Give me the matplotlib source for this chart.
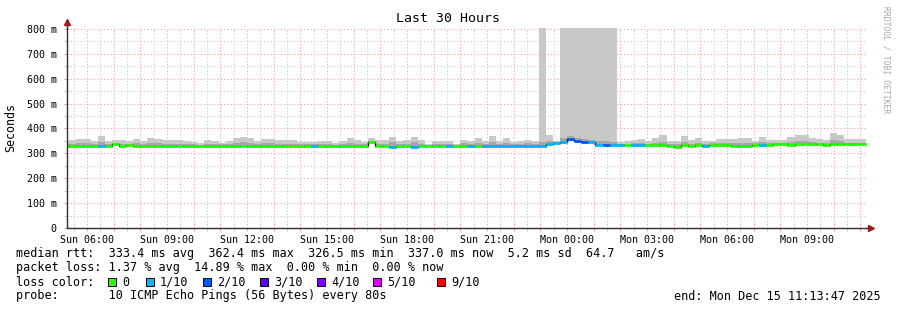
import matplotlib
matplotlib.use("Agg")
import matplotlib.pyplot as plt
import matplotlib.dates as mdates
from matplotlib.patches import Rectangle
from matplotlib.ticker import MultipleLocator, FuncFormatter
import pandas as pd
import numpy as np

# 16 minute consolidated rows, first one is only partly inside the window
t_start = pd.Timestamp("2025-12-14 05:13:47")
t_end = pd.Timestamp("2025-12-15 11:13:47")
first_row = "2025-12-14 05:04"

rtt_median = [
    330,
    330, 330, 330, 330, 330, 330, 336, 331, 332, 329, 329, 330, 329, 329,
    330, 329, 329, 329, 330, 329, 329, 329, 330, 329, 329, 329, 330, 329,
    329, 329, 329, 329, 330, 329, 329, 330, 329, 329, 329, 330, 329, 330,
    345, 330, 329, 327, 329, 329, 324, 329, 329, 330, 329, 329, 329, 329,
    329, 328, 331, 331, 331, 331, 331, 331, 331, 331, 331, 337, 341, 347,
    359, 350, 344, 344, 334, 334, 334, 333, 333, 333, 333, 333, 333, 333,
    328, 324, 333, 328, 333, 331, 333, 335, 335, 331, 331, 331, 335, 335,
    335, 336, 336, 335, 336, 336, 336, 336, 335, 336, 336, 336, 336, 337,
]
rtt_max = [
    351,
    352, 358, 358, 348, 371, 349, 354, 354, 351, 358, 351, 362, 358, 354,
    354, 354, 351, 345, 342, 354, 349, 342, 351, 362, 367, 362, 348, 358,
    358, 352, 352, 352, 346, 346, 346, 351, 351, 343, 348, 362, 352, 346,
    362, 352, 352, 366, 348, 352, 366, 352, 338, 348, 348, 348, 339, 352,
    348, 362, 348, 370, 351, 362, 346, 348, 354, 348, 2000, 375, 351, 2000,
    2000, 2000, 2000, 2000, 2000, 2000, 2000, 346, 348, 354, 359, 351, 362, 375,
    348, 348, 370, 352, 362, 348, 351, 358, 358, 358, 362, 362, 351, 366,
    352, 352, 352, 366, 375, 375, 362, 358, 352, 383, 375, 359, 359, 359,
]
rtt_inner = [
    338,
    338, 340, 341, 337, 345, 338, 342, 339, 337, 341, 338, 343, 340, 338,
    339, 339, 338, 336, 335, 339, 337, 336, 338, 342, 344, 343, 337, 340,
    341, 338, 337, 338, 336, 337, 336, 338, 337, 335, 337, 342, 338, 336,
    350, 339, 338, 345, 337, 338, 344, 338, 334, 337, 336, 337, 334, 340,
    337, 342, 338, 345, 339, 342, 337, 338, 340, 338, 345, 350, 346, 362,
    368, 362, 356, 354, 350, 348, 346, 338, 338, 340, 342, 339, 343, 347,
    337, 336, 346, 338, 343, 337, 340, 342, 341, 340, 343, 343, 340, 345,
    341, 341, 341, 345, 348, 348, 344, 342, 340, 352, 348, 342, 342, 342,
]
loss_level = [
    0,
    0, 0, 0, 0, 1, 0, 0, 0, 0, 0, 0, 0, 0, 0,
    0, 0, 0, 0, 0, 0, 0, 0, 0, 0, 0, 0, 0, 0,
    0, 0, 0, 0, 0, 0, 1, 0, 0, 0, 0, 0, 0, 0,
    0, 0, 0, 1, 0, 0, 1, 0, 0, 0, 0, 1, 0, 0,
    1, 0, 1, 1, 1, 1, 1, 1, 1, 1, 1, 1, 1, 1,
    2, 2, 2, 1, 1, 2, 1, 1, 0, 1, 1, 0, 0, 0,
    0, 0, 0, 0, 0, 1, 0, 0, 0, 0, 0, 0, 0, 1,
    0, 0, 0, 0, 0, 0, 0, 0, 0, 0, 0, 0, 0, 0,
]

loss_labels = ["0", "1/10", "2/10", "3/10", "4/10", "5/10", "9/10"]
loss_colors = ["#26ff00", "#00b8ff", "#0059ff", "#5e00ff", "#7e00ff", "#dd00ff", "#ff0000"]

stats_rtt = "median rtt:  333.4 ms avg  362.4 ms max  326.5 ms min  337.0 ms now  5.2 ms sd  64.7   am/s"
stats_loss = "packet loss: 1.37 % avg  14.89 % max  0.00 % min  0.00 % now"
probe_text = "probe:       10 ICMP Echo Pings (56 Bytes) every 80s"
end_text = "end: Mon Dec 15 11:13:47 2025"

W, H = 897, 310
MONO = "DejaVu Sans Mono"
MGRID = "#f2a0a0"
GRID = "#c8c8c8"
ARROW = "#a01818"


def px(x, y):
    return x / W, 1 - y / H


plt.rcParams["font.family"] = MONO
fig = plt.figure(figsize=(W / 100, H / 100), dpi=100)
fig.patch.set_facecolor("white")
ax = fig.add_axes([66.5 / W, (H - 228) / H, 800 / W, 200 / H])

edges = mdates.date2num(pd.date_range(first_row, periods=len(rtt_median) + 1, freq="16min"))
med = np.array(rtt_median, dtype=float)

# smoke
ax.stairs(rtt_max, edges, baseline=med, fill=True, color="#c8c8c8", lw=0, zorder=2)
ax.stairs(rtt_inner, edges, baseline=med, fill=True, color="#a6a6a6", lw=0, zorder=3)
# median, dark underline then loss colours
ax.stairs(med, edges, baseline=None, color="#000000", lw=1.0, zorder=4)
ax.hlines(med, edges[:-1], edges[1:], colors=[loss_colors[l] for l in loss_level],
          lw=2.0, zorder=5, capstyle="butt")

ax.set_xlim(mdates.date2num(t_start), mdates.date2num(t_end))
ax.set_ylim(0, 804)

ax.xaxis.set_major_locator(mdates.HourLocator())
ax.xaxis.set_minor_locator(mdates.MinuteLocator(byminute=[30]))


def hour_fmt(x, pos):
    d = mdates.num2date(x)
    return d.strftime("%a %H:%M") if d.hour % 3 == 0 else ""


ax.xaxis.set_major_formatter(FuncFormatter(hour_fmt))
ax.yaxis.set_major_locator(MultipleLocator(100))
ax.yaxis.set_minor_locator(MultipleLocator(50))
ax.yaxis.set_major_formatter(FuncFormatter(lambda v, p: "0" if v == 0 else f"{v:.0f} m"))

ax.grid(which="major", color=MGRID, linestyle=(0, (1, 2)), lw=0.8, zorder=1)
ax.grid(which="minor", color=GRID, linestyle=(0, (1, 2)), lw=0.8, zorder=1)
ax.set_axisbelow(True)

ax.tick_params(which="major", length=2.5, width=0.8, color=MGRID, labelsize=7.2, pad=2.5)
ax.tick_params(which="minor", length=2.0, width=0.8, color=GRID)
ax.tick_params(axis="y", which="major", pad=4.5)

for s in ("top", "right"):
    ax.spines[s].set_visible(False)
for s in ("left", "bottom"):
    ax.spines[s].set_color("#303030")
    ax.spines[s].set_linewidth(1.0)
    ax.spines[s].set_zorder(6)

# axis arrows
ax.plot([0, 0], [1, 1.03], transform=ax.transAxes, color="#303030", lw=1.0, clip_on=False)
ax.plot([1, 1.004], [0, 0], transform=ax.transAxes, color="#303030", lw=1.0, clip_on=False)
ax.plot([0], [1.03], marker="^", ms=4, color=ARROW, transform=ax.transAxes, clip_on=False)
ax.plot([1.006], [0], marker=">", ms=4, color=ARROW, transform=ax.transAxes, clip_on=False)

fig.text(*px(448, 19), "Last 30 Hours", ha="center", va="center", fontsize=9.5)
fig.text(*px(11, 127), "Seconds", ha="center", va="center", rotation=90, fontsize=8.4)
fig.text(*px(886, 60), "RRDTOOL / TOBI OETIKER", ha="center", va="center",
         rotation=270, fontsize=5.8, color="#a8a8a8")

fig.text(*px(16, 254), stats_rtt, ha="left", va="center", fontsize=8.5)
fig.text(*px(16, 268), stats_loss, ha="left", va="center", fontsize=8.5)
fig.text(*px(16, 282), "loss color:", ha="left", va="center", fontsize=8.5)
fig.text(*px(16, 296), probe_text, ha="left", va="center", fontsize=8.5)
fig.text(*px(881, 296), end_text, ha="right", va="center", fontsize=8.5)

sq_x = [108, 146, 203, 260, 317, 373, 437]
for x, lab, col in zip(sq_x, loss_labels, loss_colors):
    fig.add_artist(Rectangle(px(x, 286), 8 / W, 8 / H, transform=fig.transFigure,
                             facecolor=col, edgecolor="black", lw=0.7))
    fig.text(*px(x + 14, 282), lab, ha="left", va="center", fontsize=8.5)

fig.savefig("out.png", dpi=100, facecolor="white")
